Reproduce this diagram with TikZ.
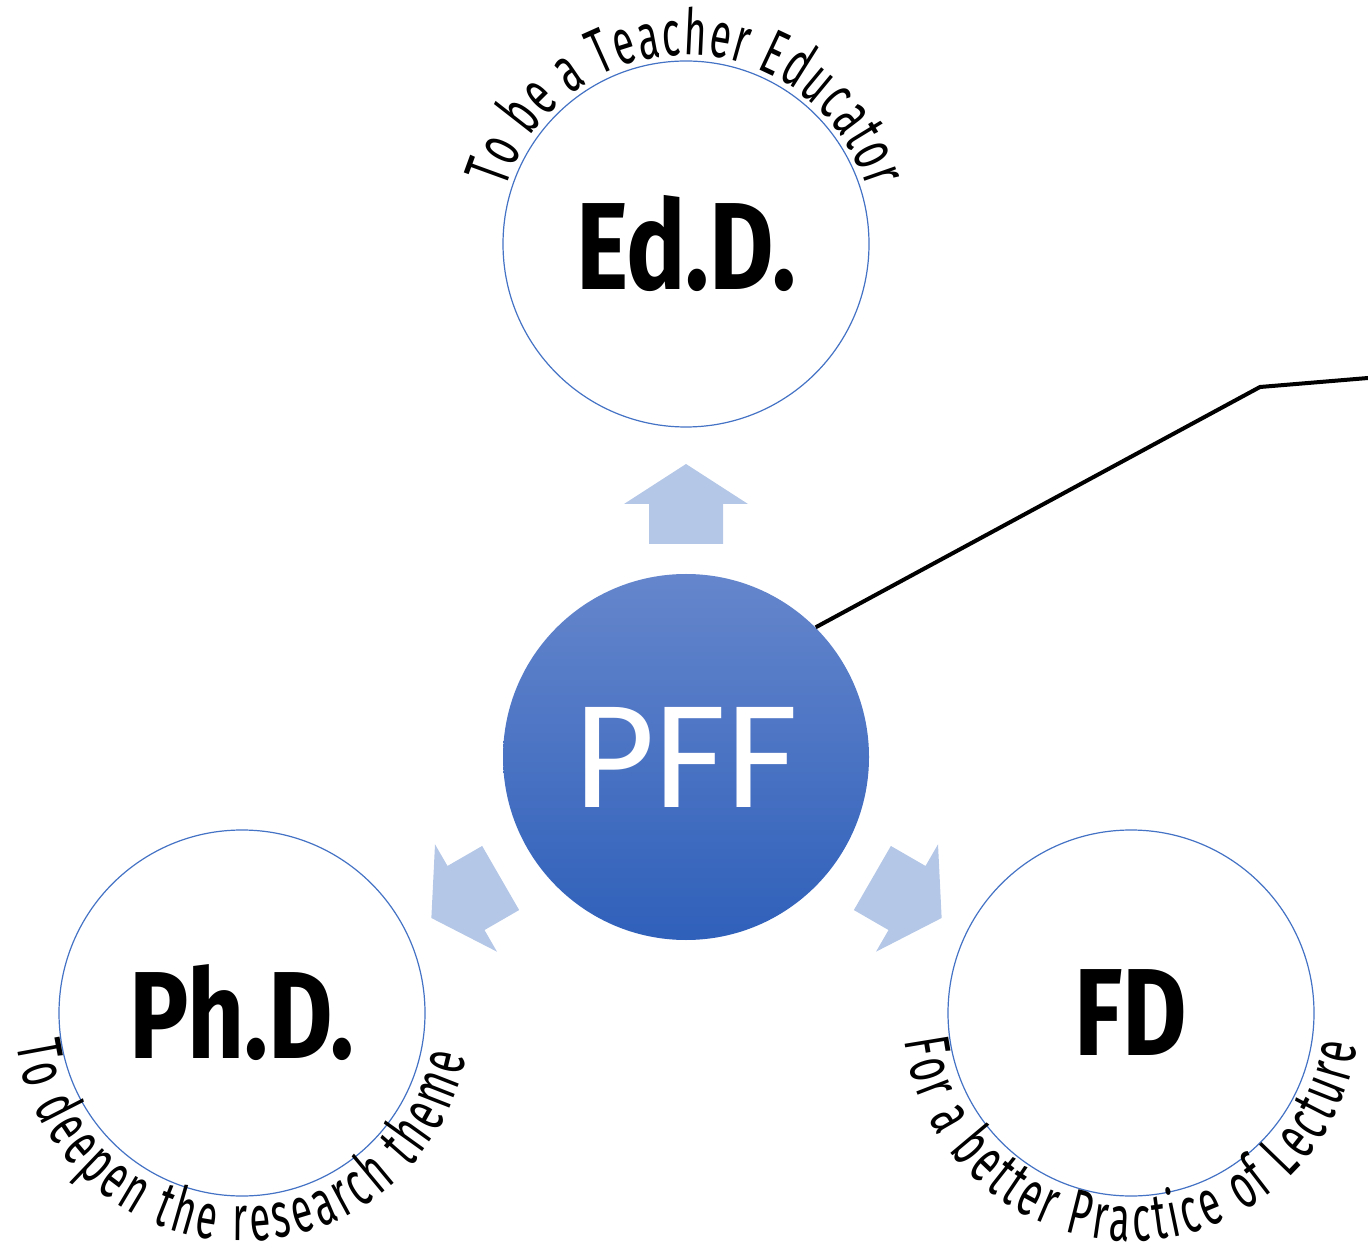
\documentclass[tikz,border=0pt]{standalone}
\usepackage{fontspec}
\usepackage{graphicx}
\usepackage{tikz}
\usetikzlibrary{positioning,decorations.text}

\newfontfamily\hubfont{Carlito}
\newfontfamily\degfont{Fira Sans}[FakeStretch=0.8]
\newfontfamily\arcfont{Fira Sans}[FakeStretch=0.6]

\definecolor{ringblue}{RGB}{68,114,196}
\definecolor{hubtop}{RGB}{101,134,204}
\definecolor{hubbottom}{RGB}{47,96,186}
\definecolor{spokeblue}{RGB}{180,199,231}

\begin{document}
\begin{tikzpicture}[
        x = 0.5pt,
        y = 0.5pt,
        degree/.style = {circle, draw=ringblue, line width=0.6pt, fill=white,
                         minimum size=183pt, inner sep=0pt,
                         font=\degfont\bfseries\fontsize{62}{70}\selectfont},
        hub/.style = {circle, minimum size=183pt, inner sep=0pt,
                      top color=hubtop, bottom color=hubbottom, text=white,
                      font=\hubfont\fontsize{78}{90}\selectfont},
        spoke/.style = {fill=spokeblue},
        leader/.style = {line width=2pt},
        arclabel/.style = {decorate, decoration={text along path, text align={fit to path},
                           text={|\arcfont\fontsize{32}{36}\selectfont|#1}}}
        ]
        \useasboundingbox (0, 0) rectangle (1368, 1253);

        \node[hub] (pff) at (686, 496) {\raisebox{-1pt}{PFF}};
        \node[degree] (edd) at (686, 1009) {Ed.D.};
        \node[degree] (phd) at (242, 240) {Ph.D.};
        \node[degree] (fd) at (1131, 240) {FD};

        % block arrows out of the hub
        \foreach \x/\y/\r in {686/749/0, 466/355/120, 907/355/-120}
            \fill[spoke, shift={(\x, \y)}, rotate=\r]
                (0, 40) -- (62, 0) -- (37, 0) -- (37, -40)
                -- (-37, -40) -- (-37, 0) -- (-62, 0) -- cycle;

        % leader line
        \coordinate (bend) at (1260, 866);
        \coordinate (leaderend) at (1368, 875);
        \draw[leader] (pff.45) -- (bend) -- (leaderend);

        % texts round the circles
        \path[arclabel={To be a Teacher Educator}]
            (edd.center) ++(163:189) arc[start angle=163, end angle=17, radius=189];
        \path[arclabel={To deepen the research theme}]
            (phd.center) ++(188:228) arc[start angle=188, end angle=349, radius=228];
        \path[arclabel={For a better Practice of Lecture}]
            (fd.center) ++(187:228) arc[start angle=187, end angle=352, radius=228];
    \end{tikzpicture}
\end{document}
